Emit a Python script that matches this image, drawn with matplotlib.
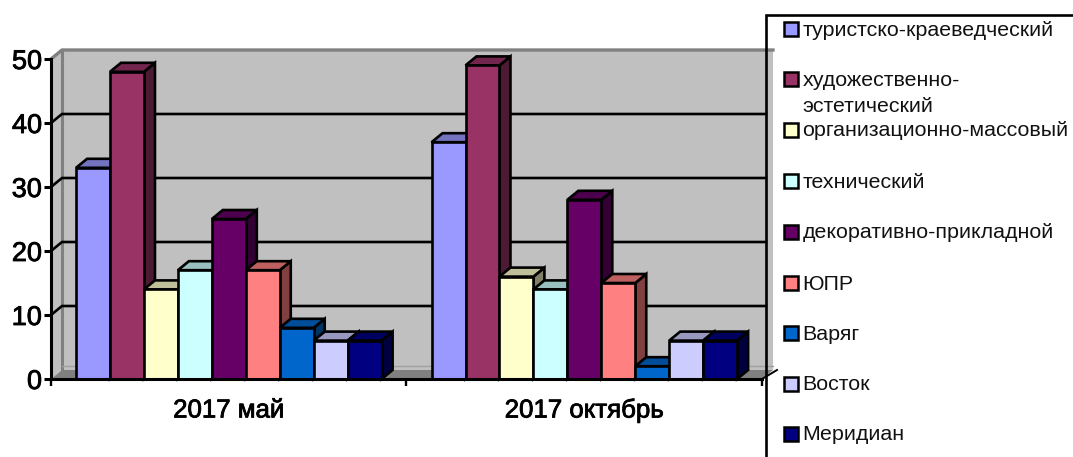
import matplotlib.pyplot as plt
import matplotlib.patheffects as pe
from matplotlib.patches import Rectangle
from matplotlib.colors import to_rgb

plt.rcParams["font.family"] = ["Liberation Sans", "DejaVu Sans"]

# Data
periods = ["2017 май", "2017 октябрь"]
clubs = [
    "туристско-краеведческий",
    "художественно-\nэстетический",
    "организационно-массовый",
    "технический",
    "декоративно-прикладной",
    "ЮПР",
    "Варяг",
    "Восток",
    "Меридиан",
]
may_values = [33, 48, 14, 17, 25, 17, 8, 6, 6]
october_values = [37, 49, 16, 14, 28, 15, 2, 6, 6]
colors = ["#9999FF", "#993366", "#FFFFCC", "#CCFFFF", "#660066",
          "#FF8080", "#0066CC", "#CCCCFF", "#000080"]
y_ticks = [0, 10, 20, 30, 40, 50]

W, H = 1073, 457
LW = 1.9
fig = plt.figure(figsize=(W / 100, H / 100), dpi=100)
ax = fig.add_axes([51 / W, (H - 379) / H, 711 / W, 320 / H])
ax.set_xlim(0, 2)
ax.set_ylim(0, 50)

# depth of the fake 3D box, in data units
dx = 11 / 355.5
dy = 9 / 6.4
bar_w = 0.0955
gap = 0.0705


def shade(color, k):
    return tuple(c * k for c in to_rgb(color))


# walls and floor
ax.fill([dx, 2 + dx, 2 + dx, dx], [dy, dy, 50 + dy, 50 + dy],
        color="#C0C0C0", clip_on=False, zorder=0, lw=0)
ax.fill([0, dx, dx, 0], [0, dy, 50 + dy, 50], color="#C0C0C0",
        clip_on=False, zorder=0, lw=0)
ax.fill([0, dx, 2 + dx, 2], [0, dy, dy, 0], color="#808080",
        clip_on=False, zorder=1, lw=0)
ax.plot([dx, dx], [dy, 50 + dy], color="#808080", lw=2.2, clip_on=False, zorder=1)
ax.plot([0, dx, 2 + dx], [50, 50 + dy, 50 + dy], color="#808080", lw=2.4,
        clip_on=False, zorder=1)
ax.plot([dx, 2 + dx], [dy + 0.6, dy + 0.6], color="#A0A0A0", lw=1, zorder=1,
        clip_on=False)

# grid lines on the back wall and the left wall
for v in y_ticks[1:-1]:
    ax.plot([0, dx, 2 + 4 / 355.5], [v, v + dy, v + dy], color="black", lw=LW,
            clip_on=False, zorder=2, solid_joinstyle="miter")
ax.plot([2, 2 + 15 / 355.5], [0, dy], color="black", lw=1.4, clip_on=False, zorder=2)

# bars: front from ax.bar, top and side as polygons
z = 3
for g, values in enumerate([may_values, october_values]):
    for i, v in enumerate(values):
        x0 = g + gap + i * bar_w
        x1 = x0 + bar_w
        ax.fill([x1, x1 + dx, x1 + dx, x1], [0, dy, v + dy, v], color=shade(colors[i], 0.5),
                ec="black", lw=LW, clip_on=False, zorder=z, joinstyle="miter")
        ax.fill([x0, x0 + dx, x1 + dx, x1], [v, v + dy, v + dy, v], color=shade(colors[i], 0.75),
                ec="black", lw=LW, clip_on=False, zorder=z, joinstyle="miter")
        ax.bar(x0, v, width=bar_w, align="edge", color=colors[i], edgecolor="black",
               linewidth=LW, clip_on=False, zorder=z + 0.5)
        z += 1

# axes
for s in ["top", "right"]:
    ax.spines[s].set_visible(False)
for s in ["left", "bottom"]:
    ax.spines[s].set_linewidth(2.2)
    ax.spines[s].set_zorder(100)
ax.patch.set_alpha(0)
ax.set_yticks(y_ticks)
ax.set_xticks([0, 1, 2])
ax.set_xticklabels([])
ax.set_xticks([0.5, 1.5], minor=True)
ax.set_xticklabels(periods, minor=True)
ax.tick_params(axis="x", which="major", length=5, width=1.7)
ax.tick_params(axis="x", which="minor", length=0, labelsize=18.6, pad=14)
ax.tick_params(axis="y", length=5, width=2.2, labelsize=19.5, pad=1.5)
for lab in ax.get_yticklabels() + ax.get_xticklabels(minor=True):
    lab.set_path_effects([pe.withStroke(linewidth=0.6, foreground="black")])

# legend box, drawn in pixel coordinates of the picture
lg = fig.add_axes([0, 0, 1, 1], zorder=200)
lg.set_xlim(0, W)
lg.set_ylim(H, 0)
lg.axis("off")
lg.plot([766, 766, W], [H, 15, 15], color="black", lw=1.9, solid_joinstyle="miter")
legend_y = [29, 79, 130, 181, 232, 283, 333, 384, 434]
for label, col, ly in zip(clubs, colors, legend_y):
    lg.add_patch(Rectangle((784, ly - 7), 14, 14, fc=col, ec="black", lw=1.8))
    for n, part in enumerate(label.split("\n")):
        lg.text(802.5, ly + 1 + n * 26, part, fontsize=15.4, va="center", ha="left", color="#111111")

fig.savefig("out.png", dpi=100)
